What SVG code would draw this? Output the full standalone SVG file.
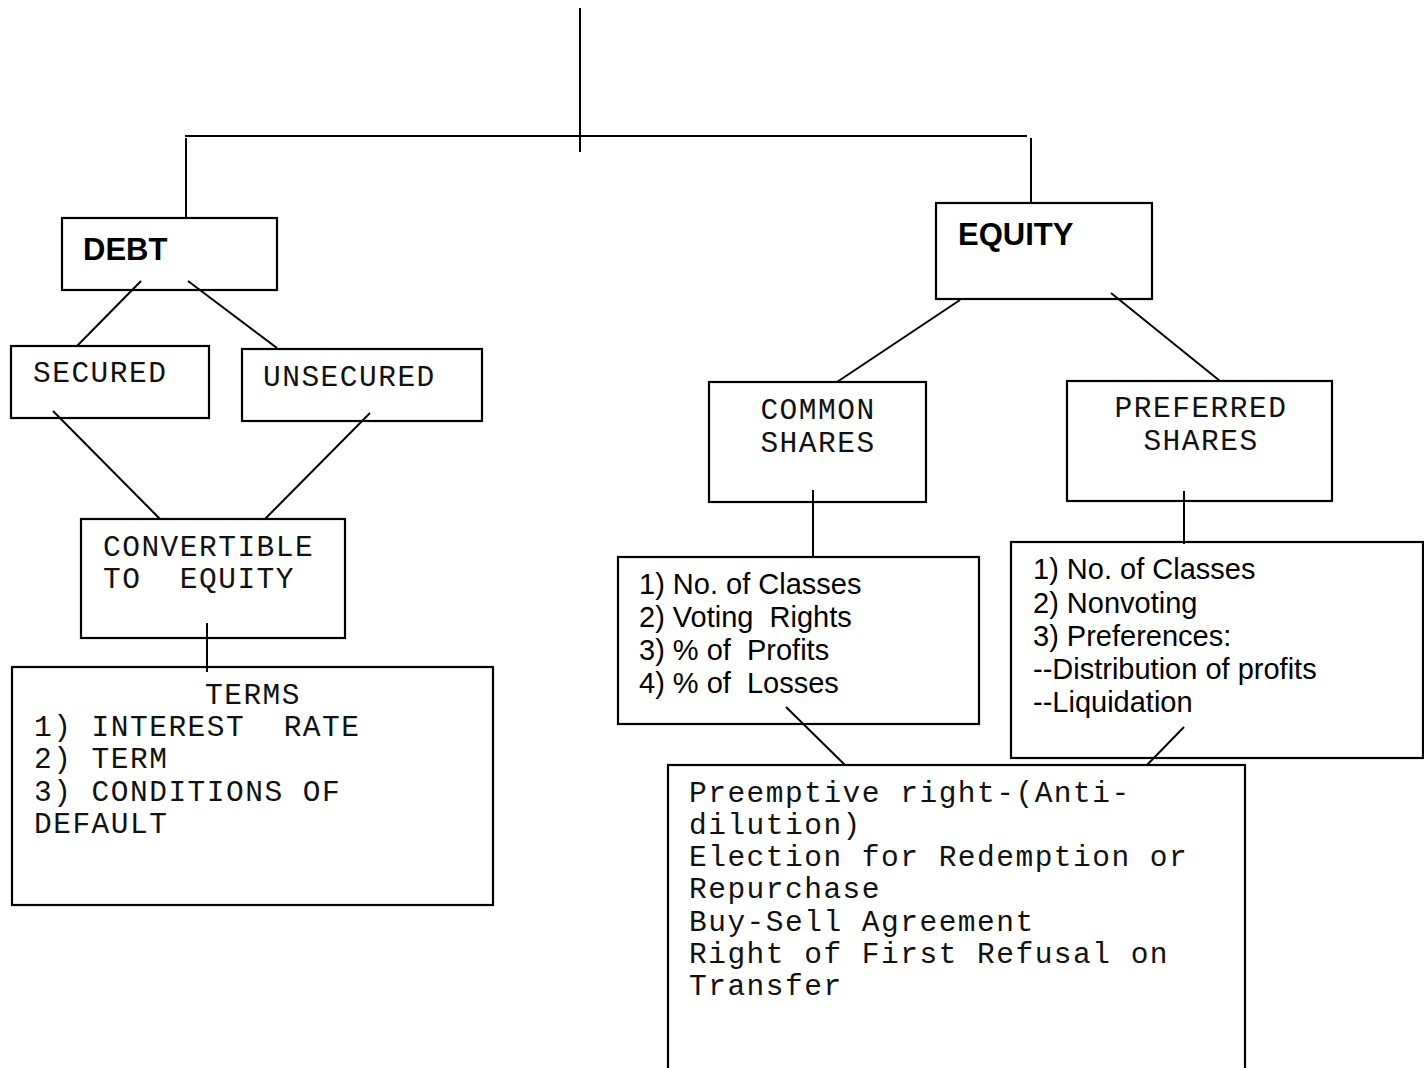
<svg xmlns="http://www.w3.org/2000/svg" width="1424" height="1068" viewBox="0 0 1424 1068">
<style>
.box{fill:none;stroke:#000;stroke-width:2.2}
.ln{stroke:#000;stroke-width:2;fill:none}
.mono{font-family:"Liberation Mono","Courier New",monospace;font-size:29.5px;letter-spacing:1.5px;fill:#111}
.sans{font-family:"Liberation Sans",Arial,sans-serif;font-size:29px;fill:#000}
.bold{font-family:"Liberation Sans",Arial,sans-serif;font-size:31px;font-weight:bold;fill:#000}
</style>
<rect width="1424" height="1068" fill="#fff"/>
<g id="connectors">
<line class="ln" x1="580" y1="8" x2="580" y2="152"/>
<line class="ln" x1="185" y1="136" x2="1027" y2="136"/>
<line class="ln" x1="186" y1="138" x2="186" y2="218"/>
<line class="ln" x1="1031" y1="138" x2="1031" y2="203"/>
<line class="ln" x1="141" y1="281" x2="77" y2="346"/>
<line class="ln" x1="188" y1="281" x2="277" y2="348"/>
<line class="ln" x1="53" y1="411" x2="160" y2="519"/>
<line class="ln" x1="370" y1="413" x2="265" y2="519"/>
<line class="ln" x1="207" y1="623" x2="207" y2="672"/>
<line class="ln" x1="960" y1="300" x2="837" y2="382"/>
<line class="ln" x1="1111" y1="293" x2="1220" y2="381"/>
<line class="ln" x1="813" y1="490" x2="813" y2="557"/>
<line class="ln" x1="1184" y1="491" x2="1184" y2="544"/>
<line class="ln" x1="786" y1="707" x2="845" y2="765"/>
<line class="ln" x1="1184" y1="727" x2="1147" y2="765"/>
</g>
<g id="debt">
<rect class="box" x="62" y="218" width="215" height="72"/>
<text class="bold" x="83" y="260">DEBT</text>
</g>
<g id="secured">
<rect class="box" x="11" y="346" width="198" height="72"/>
<text class="mono" x="33" y="382">SECURED</text>
</g>
<g id="unsecured">
<rect class="box" x="242" y="349" width="240" height="72"/>
<text class="mono" x="263" y="386">UNSECURED</text>
</g>
<g id="convertible">
<rect class="box" x="81" y="519" width="264" height="119"/>
<text class="mono" x="103" y="556">CONVERTIBLE</text>
<text class="mono" x="103" y="588" xml:space="preserve">TO  EQUITY</text>
</g>
<g id="terms">
<rect class="box" x="12" y="667" width="481" height="238"/>
<text class="mono" x="253" y="704" text-anchor="middle">TERMS</text>
<text class="mono" x="34" y="736" xml:space="preserve">1) INTEREST  RATE</text>
<text class="mono" x="34" y="768">2) TERM</text>
<text class="mono" x="34" y="801">3) CONDITIONS OF</text>
<text class="mono" x="34" y="833">DEFAULT</text>
</g>
<g id="equity">
<rect class="box" x="936" y="203" width="216" height="96"/>
<text class="bold" x="958" y="245">EQUITY</text>
</g>
<g id="common">
<rect class="box" x="709" y="382" width="217" height="120"/>
<text class="mono" x="818" y="419" text-anchor="middle">COMMON</text>
<text class="mono" x="818" y="452" text-anchor="middle">SHARES</text>
</g>
<g id="preferred">
<rect class="box" x="1067" y="381" width="265" height="120"/>
<text class="mono" x="1201" y="417" text-anchor="middle">PREFERRED</text>
<text class="mono" x="1201" y="450" text-anchor="middle">SHARES</text>
</g>
<g id="common-list">
<rect class="box" x="618" y="557" width="361" height="167"/>
<text class="sans" x="639" y="594">1) No. of Classes</text>
<text class="sans" x="639" y="627" xml:space="preserve">2) Voting  Rights</text>
<text class="sans" x="639" y="660" xml:space="preserve">3) % of  Profits</text>
<text class="sans" x="639" y="693" xml:space="preserve">4) % of  Losses</text>
</g>
<g id="preferred-list">
<rect class="box" x="1011" y="542" width="412" height="216"/>
<text class="sans" x="1033" y="579">1) No. of Classes</text>
<text class="sans" x="1033" y="613">2) Nonvoting</text>
<text class="sans" x="1033" y="646">3) Preferences:</text>
<text class="sans" x="1033" y="679">--Distribution of profits</text>
<text class="sans" x="1033" y="712">--Liquidation</text>
</g>
<g id="rights">
<rect class="box" x="668" y="765" width="577" height="320"/>
<text class="mono" x="689" y="802">Preemptive right-(Anti-</text>
<text class="mono" x="689" y="834">dilution)</text>
<text class="mono" x="689" y="866">Election for Redemption or</text>
<text class="mono" x="689" y="898">Repurchase</text>
<text class="mono" x="689" y="931">Buy-Sell Agreement</text>
<text class="mono" x="689" y="963">Right of First Refusal on</text>
<text class="mono" x="689" y="995">Transfer</text>
</g>
</svg>
